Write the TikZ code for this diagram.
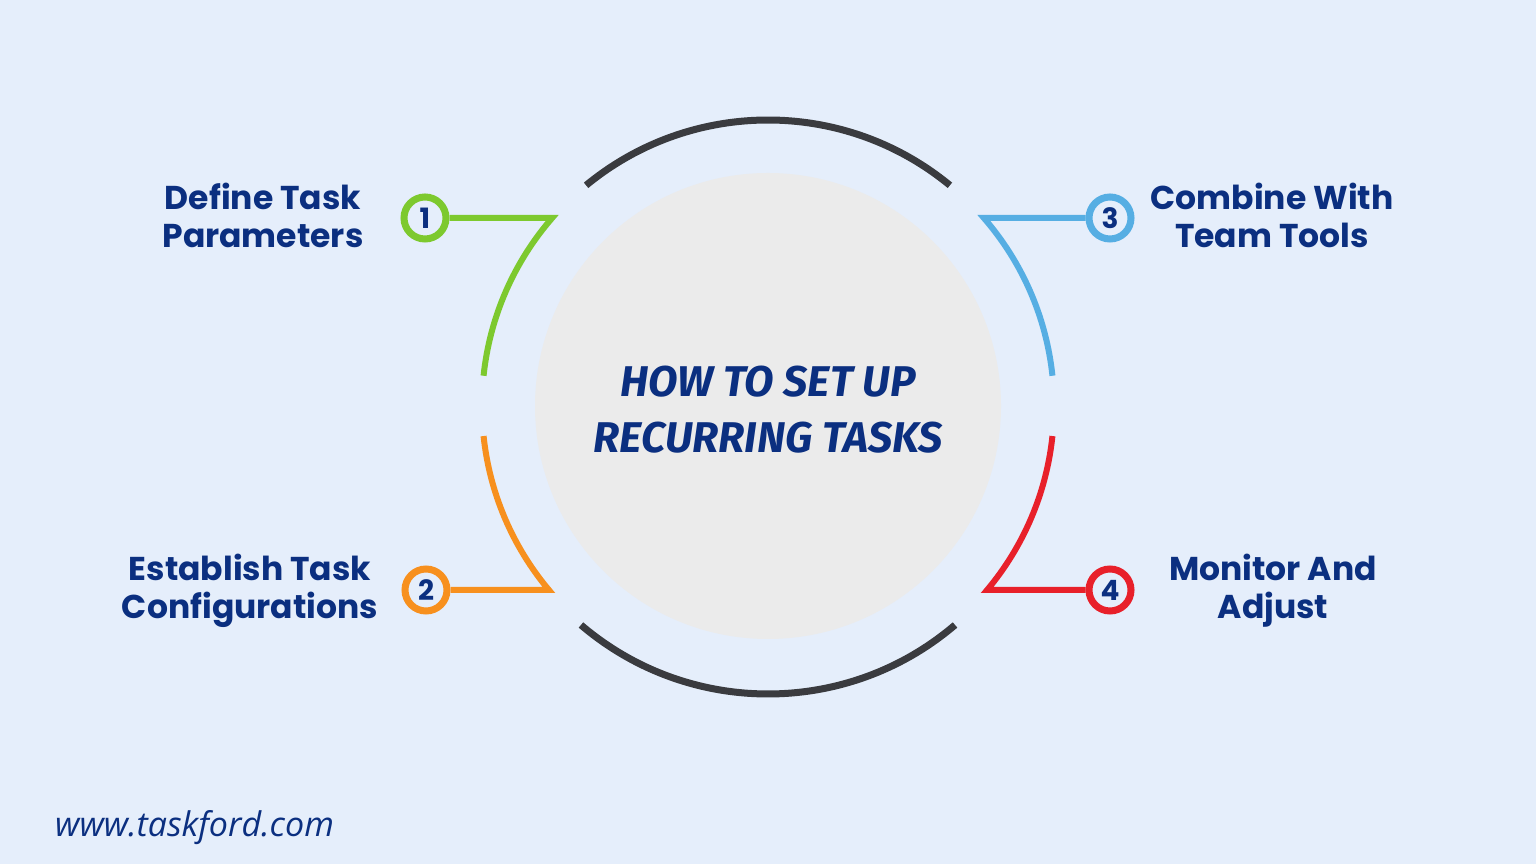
\documentclass[tikz,border=0pt]{standalone}
\usepackage{fontspec}
\setmainfont{Poppins}
\newfontfamily\titlefont{Fira Sans}
\newfontfamily\urlfont{Open Sans}
\definecolor{bgc}{HTML}{E5EEFB}
\definecolor{grayc}{HTML}{EBEBEB}
\definecolor{navy}{HTML}{0B2F80}
\definecolor{darkarc}{HTML}{3A3B3F}
\definecolor{cgreen}{HTML}{7DC92E}
\definecolor{corange}{HTML}{F7901E}
\definecolor{cblue}{HTML}{56AEE3}
\definecolor{cred}{HTML}{E8202A}
\begin{document}
\begin{tikzpicture}[x=1pt,y=1pt,
  numc/.style={circle, draw, line width=7pt, fill=bgc, minimum size=42pt, inner sep=0pt,
     text=navy, font=\bfseries\fontsize{28}{28}\selectfont},
  conn/.style={line width=6pt, miter limit=20},
  darc/.style={line width=7pt, draw=darkarc},
  lbl/.style={text=navy, align=center, font=\bfseries\fontsize{33}{38}\selectfont}]
\fill[bgc] (0,0) rectangle (1536,864);
\useasboundingbox (0,0) rectangle (1536,864);
\node[circle, fill=grayc, minimum size=466pt, inner sep=0pt] (C) at (768,458) {};
\node[text=navy, align=center, font=\titlefont\bfseries\itshape\fontsize{43}{56}\selectfont] (title) at (768,454) {HOW TO SET UP\\RECURRING TASKS};
% dark arcs
\draw[darc] ([shift={(129.5:286pt)}]C.center) arc[start angle=129.5, end angle=50.5, radius=286pt];
\draw[darc] ([shift={(229.5:288pt)}]C.center) arc[start angle=229.5, end angle=310.5, radius=288pt];
% number circles
\node[numc, draw=cgreen] (n1) at (425,646) {1};
\node[numc, draw=corange] (n2) at (426,274) {2};
\node[numc, draw=cblue] (n3) at (1110,646) {3};
\node[numc, draw=cred] (n4) at (1110,274) {4};
% corners
\coordinate (k1) at ([shift={(139:286pt)}]C.center);
\coordinate (k2) at ([shift={(220:286pt)}]C.center);
\coordinate (k3) at ([shift={(41:286pt)}]C.center);
\coordinate (k4) at ([shift={(320:286pt)}]C.center);
% connectors
\draw[conn, cgreen] (n1.east) -- (n1.east -| k1) arc[start angle=139, end angle=174, radius=286pt];
\draw[conn, corange] (n2.east) -- (n2.east -| k2) arc[start angle=220, end angle=186, radius=286pt];
\draw[conn, cblue] (n3.west) -- (n3.west -| k3) arc[start angle=41, end angle=6, radius=286pt];
\draw[conn, cred] (n4.west) -- (n4.west -| k4) arc[start angle=320, end angle=354, radius=286pt];
% labels
\node[lbl] (l1) at (263,649) {Define Task\\Parameters};
\node[lbl] (l2) at (250,273) {Establish Task\\Configurations};
\node[lbl] (l3) at (1272,649) {Combine With\\Team Tools};
\node[lbl] (l4) at (1273,273) {Monitor And\\Adjust};
% url
\node[anchor=base west, inner sep=0pt, text=navy, font=\urlfont\itshape\fontsize{34}{34}\selectfont] (url) at (55,27) {www.taskford.com};
\end{tikzpicture}
\end{document}
